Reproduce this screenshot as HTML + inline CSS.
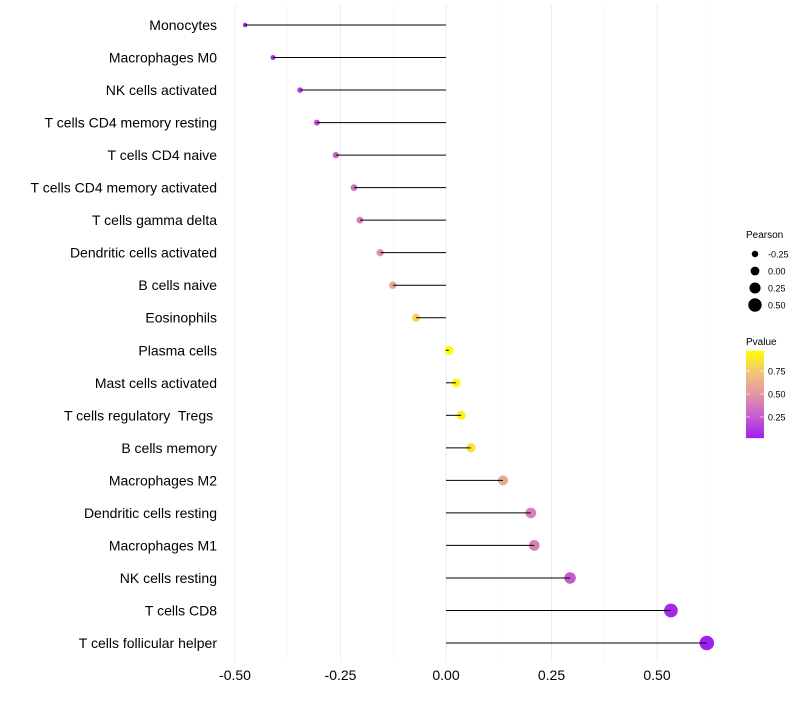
<!DOCTYPE html>
<html><head><meta charset="utf-8"><style>
body{margin:0;background:#fff;font-family:"Liberation Sans",sans-serif}
svg text{font-family:"Liberation Sans",sans-serif;white-space:pre}
</style></head><body>
<svg id="chart" width="800" height="700"></svg>
<script>
const categories=["Monocytes","Macrophages M0","NK cells activated","T cells CD4 memory resting","T cells CD4 naive","T cells CD4 memory activated","T cells gamma delta","Dendritic cells activated","B cells naive","Eosinophils","Plasma cells","Mast cells activated","T cells regulatory  Tregs ","B cells memory","Macrophages M2","Dendritic cells resting","Macrophages M1","NK cells resting","T cells CD8","T cells follicular helper"];
const pearson=[-0.476,-0.41,-0.346,-0.306,-0.261,-0.218,-0.204,-0.156,-0.126,-0.071,0.007,0.024,0.036,0.059,0.135,0.201,0.209,0.294,0.533,0.618];
const pvalue=[0.03,0.08,0.15,0.2,0.3,0.35,0.4,0.5,0.6,0.8,0.97,0.93,0.9,0.85,0.6,0.4,0.4,0.25,0.05,0.02];
const xTicks=[-0.5,-0.25,0,0.25,0.5];
const xTickLabels=["-0.50","-0.25","0.00","0.25","0.50"];
const sizeLegend=[-0.25,0,0.25,0.5];
const sizeLegendLabels=["-0.25","0.00","0.25","0.50"];
const pTicks=[0.25,0.5,0.75];
const pTickLabels=["0.25","0.50","0.75"];

const NS="http://www.w3.org/2000/svg";
const svg=document.getElementById('chart');
function mk(t,a,p){const e=document.createElementNS(NS,t);for(const k in a)e.setAttribute(k,a[k]);(p||svg).appendChild(e);return e;}
const xs=v=>446+v*422;
const ys=i=>25+i*(643-25)/(categories.length-1);
const rs=v=>4.4+4.6*v;
const stops=[[0,[160,32,240]],[0.25,[198,92,208]],[0.5,[226,150,165]],[0.75,[242,196,120]],[1,[255,255,0]]];
const pmin=0.02,pmax=0.97;
function col(p){let t=(p-pmin)/(pmax-pmin);t=Math.max(0,Math.min(1,t));
 for(let i=1;i<stops.length;i++){if(t<=stops[i][0]){const a=stops[i-1],b=stops[i],f=(t-a[0])/(b[0]-a[0]);
 return 'rgb('+a[1].map((c,j)=>Math.round(c+(b[1][j]-c)*f)).join(',')+')';}}return 'rgb(255,255,0)';}

// grid
for(let v=-0.5;v<=0.625;v+=0.125){
 const major=Math.abs(v*4-Math.round(v*4))<1e-6;
 const g=mk('line',{x1:xs(v),x2:xs(v),y1:5,y2:662,stroke:major?'#ededed':'#f4f4f4','stroke-width':major?1:0.6});
 
 
}
xTicks.forEach((v,i)=>{
 const t=mk('text',{x:xs(v),y:680,'text-anchor':'middle','font-size':14,fill:'#000'});t.textContent=xTickLabels[i];
 
 
});
categories.forEach((c,i)=>{
 const y=ys(i);
 const t=mk('text',{x:217,y:y+5,'text-anchor':'end','font-size':14,fill:'#000'});t.textContent=c;
 
 
 const p=mk('circle',{cx:xs(pearson[i]),cy:y,r:rs(pearson[i]),fill:col(pvalue[i])});
 
 
 const l=mk('line',{x1:xs(0),x2:xs(pearson[i]),y1:y,y2:y,stroke:'#000','stroke-width':1});
 
 
});
// size legend
const lt=mk('text',{x:746,y:238,'font-size':10});lt.textContent='Pearson';


sizeLegend.forEach((v,i)=>{
 const y=254+i*17;
 const c=mk('circle',{cx:755,cy:y,r:rs(v),fill:'#000'});
 
 
 const t=mk('text',{x:768,y:y+3.5,'font-size':9});t.textContent=sizeLegendLabels[i];
 
 
});
// colorbar
const pt=mk('text',{x:746,y:345,'font-size':10});pt.textContent='Pvalue';


const defs=mk('defs',{});
const lg=mk('linearGradient',{id:'pg',x1:0,y1:1,x2:0,y2:0},defs);
stops.forEach(s=>mk('stop',{offset:s[0],'stop-color':'rgb('+s[1].join(',')+')'},lg));
const py=p=>440-92*p;
const bar=mk('rect',{x:746,y:py(pmax),width:18,height:py(pmin)-py(pmax),fill:'url(#pg)'});


pTicks.forEach((v,i)=>{
 mk('line',{x1:746,x2:750,y1:py(v),y2:py(v),stroke:'#fff','stroke-opacity':0.6});
 mk('line',{x1:760,x2:764,y1:py(v),y2:py(v),stroke:'#fff','stroke-opacity':0.6});
 const t=mk('text',{x:768,y:py(v)+3.5,'font-size':9});t.textContent=pTickLabels[i];
 
 
});
</script>
</body></html>
